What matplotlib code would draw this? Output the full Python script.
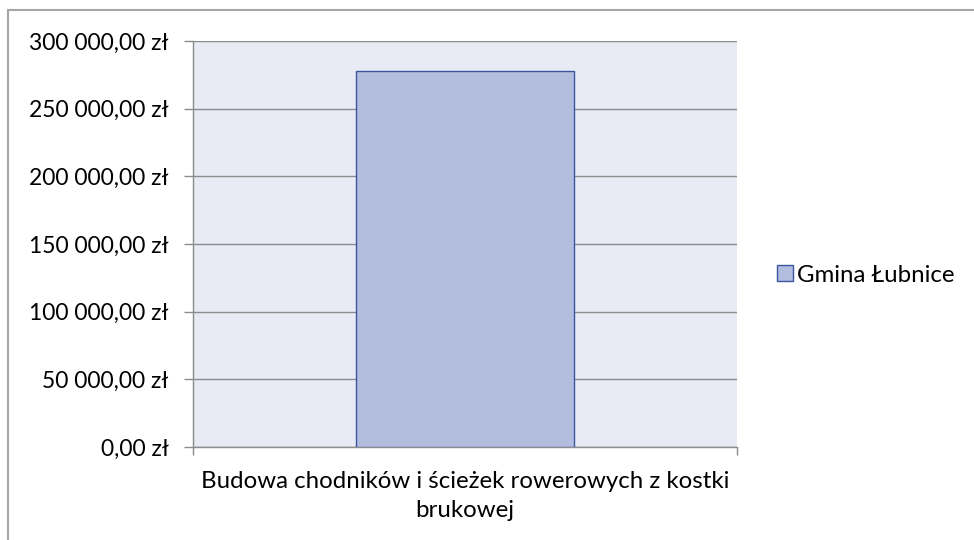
import matplotlib
matplotlib.use("Agg")
import matplotlib.pyplot as plt
from matplotlib.patches import Rectangle, Patch
from matplotlib.ticker import FuncFormatter, MultipleLocator

# data
categories = ["Budowa chodników i ścieżek rowerowych z kostki\nbrukowej"]
series_name = "Gmina Łubnice"
values = [277800]

plt.rcParams['font.family'] = ['Lato', 'DejaVu Sans']

W, H = 974, 540
fig = plt.figure(figsize=(W / 100, H / 100), dpi=100)

# outer chart frame (only top and left edges visible)
fig.patches.append(Rectangle((8 / W, -0.1), 1.2, 1.1 - 10 / H,
                             transform=fig.transFigure, fill=False,
                             edgecolor='#A6A6A6', linewidth=1.5))

ax = fig.add_axes([193 / W, 1 - 447 / H, (737 - 193) / W, (447 - 41) / H])
ax.set_facecolor('#E8EAF4')

x = list(range(len(categories)))
ax.bar(x, values, width=0.4, color='#B3BEDF', edgecolor='#3C54A0',
       linewidth=1.0, zorder=3)

ax.set_xlim(-0.5, len(categories) - 0.5)
ax.set_ylim(0, 300000)
ax.yaxis.set_major_locator(MultipleLocator(50000))
ax.yaxis.set_major_formatter(FuncFormatter(
    lambda v, p: "{:,.2f}".format(v).replace(",", " ").replace(".", ",") + " zł"))
ax.grid(axis='y', color='#8C8C8C', linewidth=1.0, zorder=1)

ax.set_xticks(x)
ax.set_xticklabels(categories, fontsize=17.3, linespacing=1.5)
ax.set_xticks([i - 0.5 for i in range(len(categories) + 1)], minor=True)
ax.tick_params(axis='x', which='major', length=0, pad=17)
ax.tick_params(axis='x', which='minor', length=6, color='#8C8C8C', width=1)
ax.tick_params(axis='y', length=6.5, color='#8C8C8C', width=1, pad=11,
               labelsize=16.5)

for s in ['top', 'right']:
    ax.spines[s].set_visible(False)
for s in ['left', 'bottom']:
    ax.spines[s].set_color('#8C8C8C')
    ax.spines[s].set_linewidth(1.0)

handle = Patch(facecolor='#B3BEDF', edgecolor='#3C54A0', linewidth=1.0)
fig.legend([handle], [series_name], loc='center left',
           bbox_to_anchor=(765 / W, 1 - 275 / H), frameon=False,
           fontsize=17.3, handlelength=0.65, handleheight=0.65,
           handletextpad=0.2, borderpad=0)

fig.savefig("out.png", dpi=100)
